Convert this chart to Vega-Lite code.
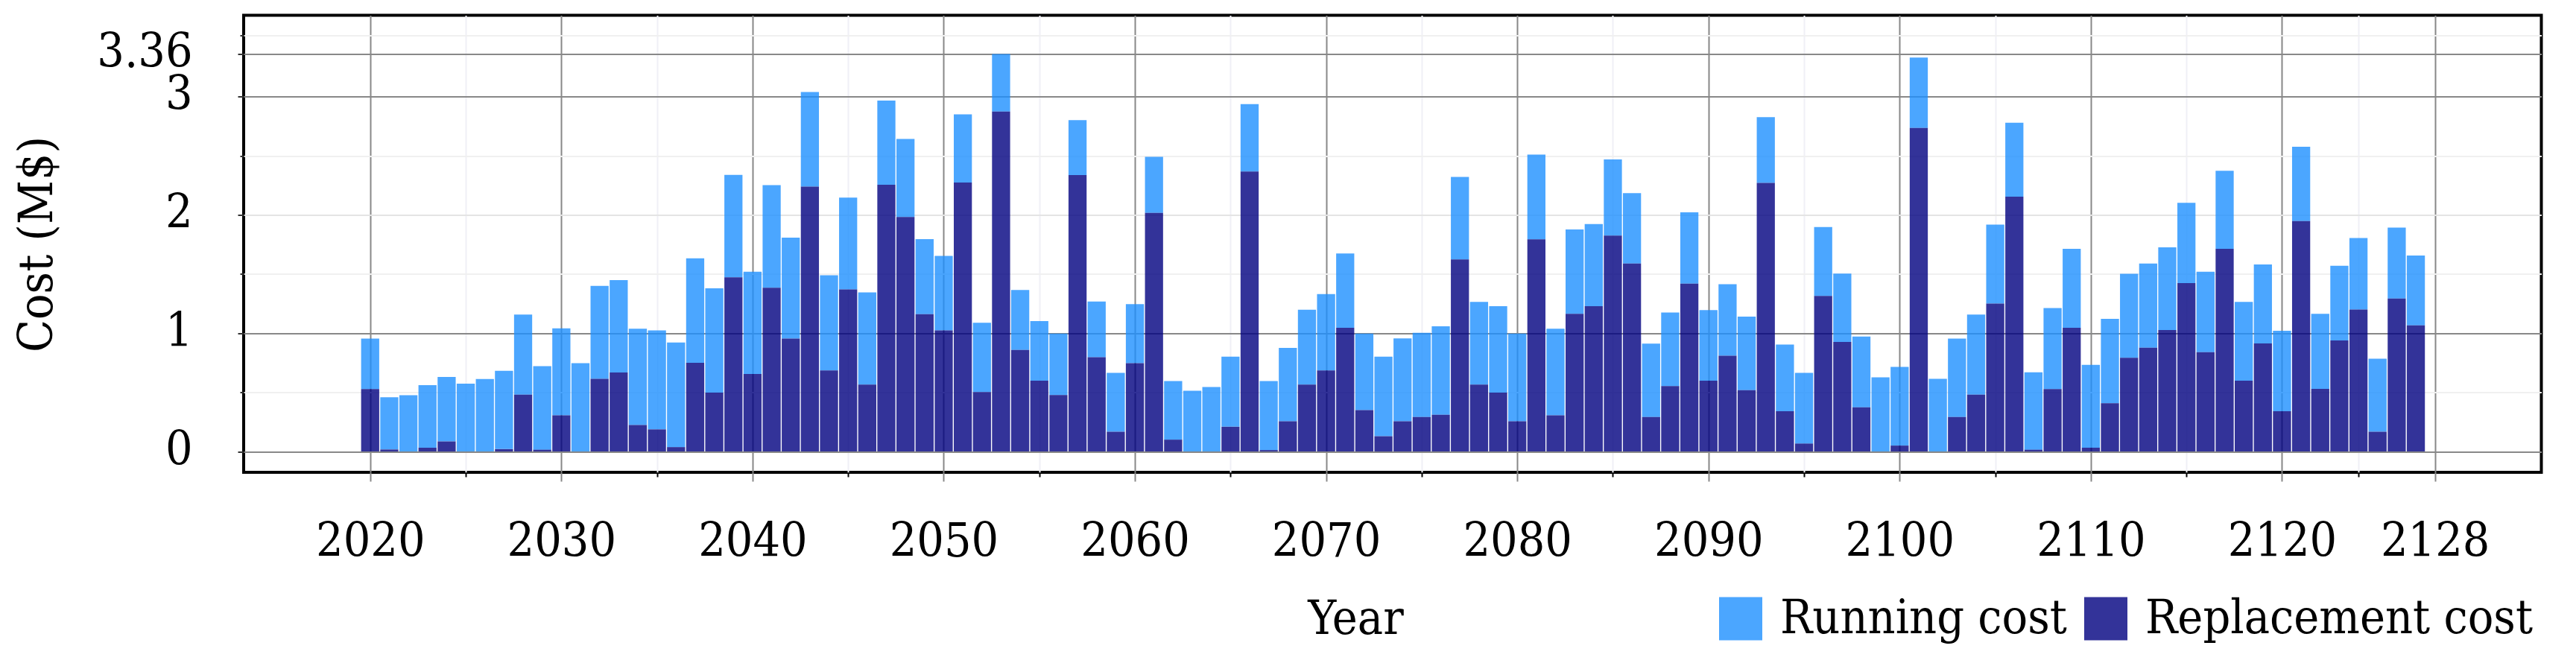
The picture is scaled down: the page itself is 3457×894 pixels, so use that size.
{
  "$schema": "https://vega.github.io/schema/vega-lite/v6.json",
  "width": 3083.5,
  "height": 613.5,
  "autosize": {"type": "none"},
  "padding": {"left": 327, "top": 20.5, "right": 46.5, "bottom": 260},
  "background": "white",
  "config": {
    "font": "DejaVu Serif Condensed, DejaVu Serif",
    "view": {"stroke": "black", "strokeWidth": 4},
    "axis": {
      "labelFont": "DejaVu Serif Condensed, DejaVu Serif",
      "titleFont": "DejaVu Serif Condensed, DejaVu Serif",
      "labelColor": "black",
      "titleColor": "black",
      "titleFontWeight": "normal",
      "domain": false,
      "labelOverlap": false,
      "labelFlush": false,
      "labelBound": false
    }
  },
  "data": {
    "values": [
      {"year": 2020, "running": 0.426, "replacement": 0.528},
      {"year": 2021, "running": 0.441, "replacement": 0.017},
      {"year": 2022, "running": 0.476, "replacement": 0},
      {"year": 2023, "running": 0.528, "replacement": 0.032},
      {"year": 2024, "running": 0.545, "replacement": 0.085},
      {"year": 2025, "running": 0.573, "replacement": 0},
      {"year": 2026, "running": 0.613, "replacement": 0},
      {"year": 2027, "running": 0.662, "replacement": 0.02},
      {"year": 2028, "running": 0.677, "replacement": 0.481},
      {"year": 2029, "running": 0.707, "replacement": 0.015},
      {"year": 2030, "running": 0.735, "replacement": 0.306},
      {"year": 2031, "running": 0.747, "replacement": 0},
      {"year": 2032, "running": 0.784, "replacement": 0.615},
      {"year": 2033, "running": 0.782, "replacement": 0.667},
      {"year": 2034, "running": 0.814, "replacement": 0.224},
      {"year": 2035, "running": 0.836, "replacement": 0.187},
      {"year": 2036, "running": 0.884, "replacement": 0.037},
      {"year": 2037, "running": 0.883, "replacement": 0.75},
      {"year": 2038, "running": 0.881, "replacement": 0.498},
      {"year": 2039, "running": 0.866, "replacement": 1.472},
      {"year": 2040, "running": 0.864, "replacement": 0.655},
      {"year": 2041, "running": 0.867, "replacement": 1.384},
      {"year": 2042, "running": 0.854, "replacement": 0.954},
      {"year": 2043, "running": 0.799, "replacement": 2.239},
      {"year": 2044, "running": 0.804, "replacement": 0.685},
      {"year": 2045, "running": 0.776, "replacement": 1.37},
      {"year": 2046, "running": 0.78, "replacement": 0.565},
      {"year": 2047, "running": 0.712, "replacement": 2.254},
      {"year": 2048, "running": 0.66, "replacement": 1.982},
      {"year": 2049, "running": 0.635, "replacement": 1.16},
      {"year": 2050, "running": 0.63, "replacement": 1.023},
      {"year": 2051, "running": 0.576, "replacement": 2.273},
      {"year": 2052, "running": 0.585, "replacement": 0.503},
      {"year": 2053, "running": 0.487, "replacement": 2.873},
      {"year": 2054, "running": 0.506, "replacement": 0.859},
      {"year": 2055, "running": 0.505, "replacement": 0.598},
      {"year": 2056, "running": 0.518, "replacement": 0.478},
      {"year": 2057, "running": 0.465, "replacement": 2.336},
      {"year": 2058, "running": 0.47, "replacement": 0.797},
      {"year": 2059, "running": 0.498, "replacement": 0.167},
      {"year": 2060, "running": 0.498, "replacement": 0.747},
      {"year": 2061, "running": 0.473, "replacement": 2.017},
      {"year": 2062, "running": 0.495, "replacement": 0.1},
      {"year": 2063, "running": 0.513, "replacement": 0},
      {"year": 2064, "running": 0.545, "replacement": 0},
      {"year": 2065, "running": 0.593, "replacement": 0.209},
      {"year": 2066, "running": 0.57, "replacement": 2.366},
      {"year": 2067, "running": 0.583, "replacement": 0.012},
      {"year": 2068, "running": 0.62, "replacement": 0.256},
      {"year": 2069, "running": 0.633, "replacement": 0.565},
      {"year": 2070, "running": 0.645, "replacement": 0.685},
      {"year": 2071, "running": 0.627, "replacement": 1.046},
      {"year": 2072, "running": 0.647, "replacement": 0.349},
      {"year": 2073, "running": 0.673, "replacement": 0.129},
      {"year": 2074, "running": 0.7, "replacement": 0.256},
      {"year": 2075, "running": 0.712, "replacement": 0.291},
      {"year": 2076, "running": 0.747, "replacement": 0.311},
      {"year": 2077, "running": 0.697, "replacement": 1.624},
      {"year": 2078, "running": 0.7, "replacement": 0.565},
      {"year": 2079, "running": 0.73, "replacement": 0.498},
      {"year": 2080, "running": 0.74, "replacement": 0.256},
      {"year": 2081, "running": 0.717, "replacement": 1.793},
      {"year": 2082, "running": 0.732, "replacement": 0.306},
      {"year": 2083, "running": 0.714, "replacement": 1.163},
      {"year": 2084, "running": 0.694, "replacement": 1.228},
      {"year": 2085, "running": 0.643, "replacement": 1.825},
      {"year": 2086, "running": 0.595, "replacement": 1.589},
      {"year": 2087, "running": 0.62, "replacement": 0.291},
      {"year": 2088, "running": 0.622, "replacement": 0.553},
      {"year": 2089, "running": 0.603, "replacement": 1.419},
      {"year": 2090, "running": 0.597, "replacement": 0.598},
      {"year": 2091, "running": 0.605, "replacement": 0.809},
      {"year": 2092, "running": 0.622, "replacement": 0.518},
      {"year": 2093, "running": 0.555, "replacement": 2.271},
      {"year": 2094, "running": 0.563, "replacement": 0.341},
      {"year": 2095, "running": 0.598, "replacement": 0.067},
      {"year": 2096, "running": 0.582, "replacement": 1.315},
      {"year": 2097, "running": 0.578, "replacement": 0.926},
      {"year": 2098, "running": 0.597, "replacement": 0.374},
      {"year": 2099, "running": 0.627, "replacement": 0},
      {"year": 2100, "running": 0.665, "replacement": 0.05},
      {"year": 2101, "running": 0.595, "replacement": 2.734},
      {"year": 2102, "running": 0.615, "replacement": 0},
      {"year": 2103, "running": 0.663, "replacement": 0.291},
      {"year": 2104, "running": 0.677, "replacement": 0.481},
      {"year": 2105, "running": 0.667, "replacement": 1.25},
      {"year": 2106, "running": 0.625, "replacement": 2.154},
      {"year": 2107, "running": 0.655, "replacement": 0.015},
      {"year": 2108, "running": 0.685, "replacement": 0.528},
      {"year": 2109, "running": 0.667, "replacement": 1.046},
      {"year": 2110, "running": 0.7, "replacement": 0.032},
      {"year": 2111, "running": 0.713, "replacement": 0.408},
      {"year": 2112, "running": 0.71, "replacement": 0.792},
      {"year": 2113, "running": 0.712, "replacement": 0.877},
      {"year": 2114, "running": 0.7, "replacement": 1.026},
      {"year": 2115, "running": 0.678, "replacement": 1.424},
      {"year": 2116, "running": 0.68, "replacement": 0.839},
      {"year": 2117, "running": 0.66, "replacement": 1.713},
      {"year": 2118, "running": 0.667, "replacement": 0.598},
      {"year": 2119, "running": 0.667, "replacement": 0.914},
      {"year": 2120, "running": 0.68, "replacement": 0.341},
      {"year": 2121, "running": 0.628, "replacement": 1.947},
      {"year": 2122, "running": 0.633, "replacement": 0.53},
      {"year": 2123, "running": 0.63, "replacement": 0.939},
      {"year": 2124, "running": 0.605, "replacement": 1.2},
      {"year": 2125, "running": 0.617, "replacement": 0.167},
      {"year": 2126, "running": 0.6, "replacement": 1.292},
      {"year": 2127, "running": 0.59, "replacement": 1.066}
    ]
  },
  "transform": [{"fold": ["running", "replacement"], "as": ["type", "cost"]}],
  "layer": [
    {
      "mark": {"type": "bar", "width": 24.3, "opacity": 0},
      "encoding": {
        "x": {
          "field": "year", "type": "quantitative",
          "scale": {"domain": [2013.578, 2133.37], "nice": false, "zero": false},
          "axis": {
            "orient": "bottom",
            "values": [2025, 2035, 2045, 2055, 2065, 2075, 2085, 2095, 2105, 2115, 2124],
            "grid": true, "gridColor": "#f0f0f6", "gridWidth": 2,
            "labels": false, "ticks": true, "tickSize": 6, "tickColor": "black", "tickWidth": 2,
            "title": null
          }
        },
        "y": {
          "field": "cost", "type": "quantitative", "stack": "zero",
          "scale": {"domain": [-0.176, 3.687], "nice": false, "zero": false},
          "axis": {
            "orient": "left",
            "values": [0.5, 1.5, 2.5, 3.52],
            "grid": true, "gridColor": "#f0f0f0", "gridWidth": 2,
            "labels": false, "ticks": true, "tickSize": 5, "tickColor": "#333333", "tickWidth": 2,
            "title": null
          }
        },
        "order": {"field": "type", "sort": "ascending"}
      }
    },
    {
      "mark": {"type": "bar", "width": 24.3, "opacity": 0.8},
      "encoding": {
        "x": {
          "field": "year", "type": "quantitative",
          "scale": {"domain": [2013.578, 2133.37], "nice": false, "zero": false},
          "axis": {
            "orient": "bottom",
            "values": [2020, 2030, 2040, 2050, 2060, 2070, 2080, 2090, 2100, 2110, 2120, 2128],
            "format": "d",
            "grid": true, "gridColor": "#888888", "gridWidth": 2,
            "ticks": true, "tickSize": 12, "tickColor": "#888888", "tickWidth": 2,
            "labelFontSize": 64, "labelBaseline": "alphabetic", "labelPadding": 100,
            "title": "Year", "titleFontSize": 64,
            "titleX": 1492, "titleY": 216, "titleAlign": "center", "titleBaseline": "alphabetic"
          }
        },
        "y": {
          "field": "cost", "type": "quantitative", "stack": "zero",
          "scale": {"domain": [-0.176, 3.687], "nice": false, "zero": false},
          "axis": {
            "orient": "left",
            "values": [0, 1, 2, 3, 3.36],
            "labelExpr": "datum.value > 3.1 ? '3.36' : '' + round(datum.value)",
            "grid": true,
            "gridColor": {"condition": {"test": "datum.value === 2", "value": "#e4e4e4"}, "value": "#888888"},
            "gridWidth": 2,
            "ticks": true, "tickSize": 8, "tickColor": "#333333", "tickWidth": 2,
            "labelFontSize": 64, "labelBaseline": "alphabetic", "labelOffset": 17, "labelPadding": 61,
            "title": "Cost (M$)", "titleFontSize": 64, "titleAngle": 270,
            "titleX": -258, "titleY": 307, "titleAlign": "center", "titleBaseline": "alphabetic"
          }
        },
        "order": {"field": "type", "sort": "ascending"},
        "color": {
          "field": "type", "type": "nominal",
          "scale": {"domain": ["running", "replacement"], "range": ["#1e90ff", "#000080"]},
          "legend": {
            "title": null, "orient": "none", "legendX": 1977, "legendY": 778,
            "direction": "horizontal", "symbolType": "square", "symbolSize": 3364,
            "symbolOpacity": 0.8, "symbolStrokeWidth": 0,
            "labelFont": "DejaVu Serif Condensed, DejaVu Serif", "labelFontSize": 64, "labelColor": "black",
            "labelOffset": 21, "columnPadding": 20, "padding": 0, "labelLimit": 1000,
            "labelExpr": "datum.value === 'running' ? 'Running cost' : 'Replacement cost'"
          }
        }
      }
    }
  ],
  "resolve": {"axis": {"x": "independent", "y": "independent"}}
}
